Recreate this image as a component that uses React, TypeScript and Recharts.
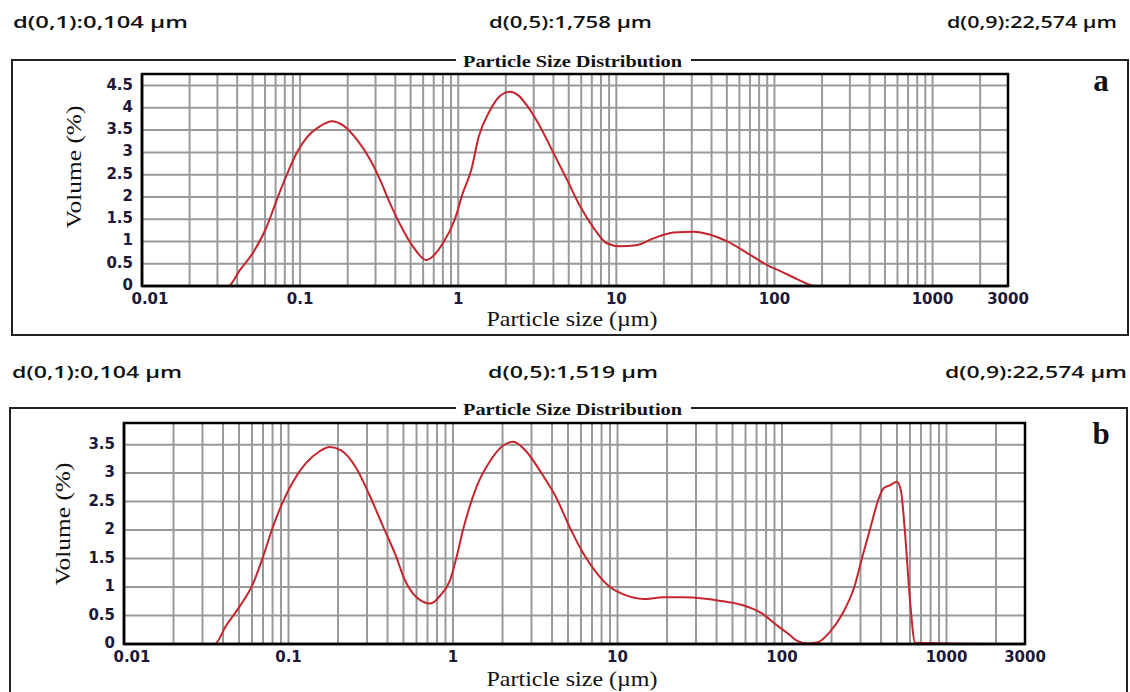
import React from "react";
import {
  CartesianGrid,
  Line,
  LineChart,
  ReferenceArea,
  XAxis,
  YAxis,
} from "recharts";

// panel a: particle size (µm) vs volume (%)
const sizeA = [
  0.02, 0.035, 0.0417, 0.0506, 0.0615, 0.0711, 0.0824, 0.0953, 0.11, 0.134,
  0.159, 0.188, 0.228, 0.277, 0.32, 0.37, 0.425, 0.518, 0.627, 0.8, 0.95,
  1.07, 1.21, 1.35, 1.58, 1.83, 2.12, 2.4, 2.71, 3.2, 4.0, 4.87, 5.9, 7.2,
  8.7, 10.6, 13.6, 17.2, 23, 30.9, 39.3, 50.3, 67.3, 89.9, 110, 140, 180,
  2000,
];
const volumeA = [
  0, 0, 0.36, 0.76, 1.33, 1.93, 2.5, 2.99, 3.33, 3.59, 3.7, 3.6, 3.29, 2.84,
  2.39, 1.86, 1.41, 0.885, 0.585, 0.96, 1.49, 2.09, 2.61, 3.36, 3.93, 4.26,
  4.36, 4.28, 4.06, 3.66, 2.99, 2.39, 1.79, 1.3, 0.96, 0.89, 0.92, 1.07, 1.2,
  1.22, 1.15, 1.0, 0.74, 0.47, 0.33, 0.15, 0, 0,
];

// panel b
const sizeB = [
  0.02, 0.0355, 0.0419, 0.0505, 0.0609, 0.07, 0.0805, 0.0926, 0.1065, 0.128,
  0.154, 0.178, 0.209, 0.258, 0.31, 0.376, 0.452, 0.5, 0.55, 0.6, 0.66, 0.71,
  0.77, 0.83, 0.96, 1.05, 1.15, 1.39, 1.67, 2.01, 2.33, 2.79, 3.5, 4.26, 5.1,
  6.2, 7.5, 9.0, 10.9, 14.4, 19, 25.1, 33.2, 43.8, 57.9, 73.2, 95, 109, 125,
  144, 165, 194, 233, 275, 308, 346, 388, 416, 456, 500, 529, 562, 602, 645,
  2000,
];
const volumeB = [
  0, 0, 0.33, 0.66, 1.06, 1.53, 2.06, 2.5, 2.85, 3.18, 3.38, 3.46, 3.4, 3.09,
  2.62, 2.06, 1.53, 1.18, 0.95, 0.82, 0.74, 0.71, 0.74, 0.84, 1.12, 1.52, 2.0,
  2.76, 3.2, 3.48, 3.55, 3.38, 2.97, 2.56, 2.06, 1.59, 1.24, 1.0, 0.87, 0.79,
  0.82, 0.82, 0.8, 0.75, 0.68, 0.56, 0.31, 0.18, 0.05, 0.01, 0.03, 0.2, 0.53,
  1.0, 1.53, 2.06, 2.56, 2.74, 2.79, 2.85, 2.68, 1.88, 0.71, 0.02, 0,
];

const xTicks = [0.01, 0.1, 1, 10, 100, 1000, 3000];
// minor log grid lines
const gridSizes = [
  0.02, 0.03, 0.04, 0.05, 0.06, 0.07, 0.08, 0.09, 0.1, 0.2, 0.3, 0.4, 0.5,
  0.6, 0.7, 0.8, 0.9, 1, 2, 3, 4, 5, 6, 7, 8, 9, 10, 20, 30, 40, 50, 60, 70,
  80, 90, 100, 200, 300, 400, 500, 600, 700, 800, 900, 1000, 2000,
];
const yTicksA = [0, 0.5, 1, 1.5, 2, 2.5, 3, 3.5, 4, 4.5];
const yTicksB = [0, 0.5, 1, 1.5, 2, 2.5, 3, 3.5];

const headerA = ["d(0,1):0,104 µm", "d(0,5):1,758 µm", "d(0,9):22,574 µm"];
const headerB = ["d(0,1):0,104 µm", "d(0,5):1,519 µm", "d(0,9):22,574 µm"];

const tickFont = {
  fontFamily: "DejaVu Sans",
  fontWeight: "bold" as const,
  fontSize: 15,
  fill: "#1d1838",
};

const XTick = (props: any) => {
  const { x, y, payload } = props;
  const shift = payload.value === 0.01 ? 8 : 0; // 0.01 sits a bit right
  return (
    <text x={x + shift} y={y + 13} textAnchor="middle" dominantBaseline="central" {...tickFont}>
      {payload.value}
    </text>
  );
};

const YTick = (props: any) => {
  const { x, y, payload } = props;
  return (
    <text x={x - 9} y={y - 1} textAnchor="end" dominantBaseline="central" {...tickFont}>
      {payload.value}
    </text>
  );
};

interface PanelProps {
  sizes: number[];
  volumes: number[];
  yMax: number;
  yTicks: number[];
  height: number;
  margin: { top: number; right: number; bottom: number; left: number };
}

function Panel({ sizes, volumes, yMax, yTicks, height, margin }: PanelProps) {
  const data = sizes.map((size, i) => ({ size, vol: volumes[i] }));
  return (
    <LineChart width={1130} height={height} data={data} margin={margin}>
      <CartesianGrid
        xAxisId="main"
        verticalValues={gridSizes}
        horizontalValues={yTicks}
        stroke="#999"
        strokeWidth={2}
      />
      <XAxis
        xAxisId="main"
        dataKey="size"
        type="number"
        scale="log"
        domain={[0.01, 3000]}
        allowDataOverflow
        ticks={xTicks}
        interval={0}
        tick={<XTick />}
        tickLine={false}
        tickSize={0}
        tickMargin={0}
        height={30}
        axisLine={{ stroke: "#000", strokeWidth: 2.5 }}
      />
      <YAxis
        type="number"
        domain={[0, yMax]}
        allowDataOverflow
        ticks={yTicks}
        interval={0}
        tick={<YTick />}
        tickLine={false}
        tickSize={0}
        tickMargin={0}
        width={40}
        axisLine={{ stroke: "#000", strokeWidth: 2.5 }}
      />
      <ReferenceArea
        xAxisId="main"
        x1={0.01}
        x2={3000}
        y1={0}
        y2={yMax}
        fill="none"
        stroke="#000"
        strokeWidth={2.5}
        ifOverflow="visible"
      />
      <Line
        xAxisId="main"
        dataKey="vol"
        type="monotone"
        stroke="#c3262d"
        strokeWidth={2}
        dot={false}
        isAnimationActive={false}
      />
    </LineChart>
  );
}

const headFont = { fontFamily: "Open Sans", fontWeight: 600, fontSize: 16, fill: "#111" };
const serif = { fontFamily: "Liberation Serif", fill: "#111" };

function Frame({ top, bottom, left, right, header, headerY, letter, letterY, volY, volX, sizeY, heads }: any) {
  return (
    <g>
      {header.map((t: string, i: number) => (
        <text
          key={t + i}
          x={heads[i][0]}
          y={headerY}
          dominantBaseline="central"
          textLength={heads[i][1] - heads[i][0]}
          lengthAdjust="spacingAndGlyphs"
          {...headFont}
        >
          {t}
        </text>
      ))}
      <rect x={left} y={top} width={right - left} height={bottom - top} fill="none" stroke="#222" strokeWidth={2} />
      <rect x={456} y={top - 8} width={235} height={16} fill="#fff" />
      <text x={572.5} y={top + 1} textAnchor="middle" dominantBaseline="central" fontWeight="bold" fontSize={17}
        textLength={219} lengthAdjust="spacingAndGlyphs" {...serif}>
        Particle Size Distribution
      </text>
      <text x={1101} y={letterY} textAnchor="middle" dominantBaseline="central" fontWeight="bold" fontSize={31} {...serif}>
        {letter}
      </text>
      <text
        x={volX}
        y={volY}
        transform={`rotate(-90 ${volX} ${volY})`}
        textAnchor="middle"
        dominantBaseline="central"
        fontSize={22}
        textLength={123}
        lengthAdjust="spacingAndGlyphs"
        {...serif}
      >
        Volume (%)
      </text>
      <text x={572} y={sizeY} textAnchor="middle" dominantBaseline="central" fontSize={21}
        textLength={171} lengthAdjust="spacingAndGlyphs" {...serif}>
        Particle size (µm)
      </text>
    </g>
  );
}

export default function App() {
  return (
    <div style={{ position: "absolute", left: 0, top: 0, width: 1130, height: 692, background: "#fff", overflow: "hidden" }}>
      <div style={{ position: "absolute", left: 0, top: 0 }}>
        <Panel
          sizes={sizeA}
          volumes={volumeA}
          yMax={4.76}
          yTicks={yTicksA}
          height={340}
          margin={{ top: 74, right: 122, bottom: 24, left: 102 }}
        />
      </div>
      <div style={{ position: "absolute", left: 0, top: 340 }}>
        <Panel
          sizes={sizeB}
          volumes={volumeB}
          yMax={3.88}
          yTicks={yTicksB}
          height={352}
          margin={{ top: 83, right: 105, bottom: 18, left: 84 }}
        />
      </div>
      <svg width={1130} height={692} style={{ position: "absolute", left: 0, top: 0, pointerEvents: "none" }}>
        <Frame
          top={60}
          bottom={335}
          left={12}
          right={1128}
          header={headerA}
          headerY={22}
          heads={[[13, 188], [489, 652], [947, 1117]]}
          letter="a"
          letterY={80}
          volX={73}
          volY={167}
          sizeY={319}
        />
        <Frame
          top={408}
          bottom={720}
          left={10}
          right={1127}
          header={headerB}
          headerY={372}
          heads={[[12, 182], [488, 658], [945, 1127]]}
          letter="b"
          letterY={433}
          volX={62}
          volY={524}
          sizeY={679}
        />
      </svg>
    </div>
  );
}
